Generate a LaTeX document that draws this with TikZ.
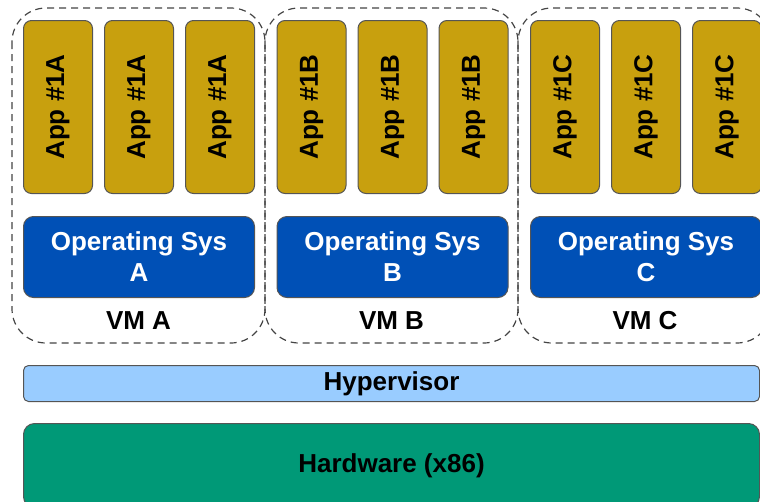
\documentclass[tikz,border=0pt]{standalone}
\usepackage{fontspec}
\setmainfont{Liberation Sans}
\definecolor{appgold}{HTML}{C8A00E}
\definecolor{osblue}{HTML}{0050B6}
\definecolor{hvblue}{HTML}{99CCFF}
\definecolor{hwgreen}{HTML}{009977}
\definecolor{edgegray}{HTML}{555555}
\definecolor{dashgray}{HTML}{444444}
\tikzset{
  vmbox/.style={draw=dashgray, line width=1.2pt, dash pattern=on 7pt off 5pt, rounded corners=34pt},
  appbox/.style={draw=edgegray, line width=1pt, fill=appgold, rounded corners=8pt, minimum width=69pt, minimum height=173pt, inner sep=0pt, anchor=north west},
  apptext/.style={font=\bfseries\fontsize{26}{28}\selectfont, rotate=90, text=black},
  osbox/.style={draw=edgegray, line width=1pt, fill=osblue, rounded corners=10pt, minimum width=231pt, minimum height=81pt, inner sep=0pt, anchor=north west, text=white, align=center, font=\bfseries\fontsize{26}{31}\selectfont},
  vmlabel/.style={font=\bfseries\fontsize{26}{28}\selectfont, text=black},
  hvbox/.style={draw=edgegray, line width=1pt, fill=hvblue, rounded corners=5pt, minimum width=736pt, minimum height=36pt, inner sep=0pt, anchor=north west, font=\bfseries\fontsize{26}{28}\selectfont},
  hwbox/.style={draw=edgegray, line width=1pt, fill=hwgreen, rounded corners=11pt, minimum width=736pt, minimum height=84pt, inner sep=0pt, anchor=north west, font=\bfseries\fontsize{26}{28}\selectfont}
}
\begin{document}
\begin{tikzpicture}[x=1pt,y=-1pt]
\useasboundingbox (0,0) rectangle (760,501);
\clip (0,0) rectangle (760,501);
% VM dashed boxes
\draw[vmbox] (12,8) rectangle (265,343);
\draw[vmbox] (265,8) rectangle (518,343);
\draw[vmbox] (518,8) rectangle (771,343);
% Apps
\foreach \x/\n [count=\i] in {23/A,104/A,185/A,276.5/B,357.5/B,438.5/B,530/C,611/C,692/C}{
  \node[appbox] (app\i) at (\x,20) {};
  \node[apptext] (apptxt\i) at (app\i.center) {App \#1\n};
}
% Operating systems
\node[osbox] (osA) at (23,216) {Operating Sys\\A};
\node[osbox] (osB) at (276.5,216) {Operating Sys\\B};
\node[osbox] (osC) at (530,216) {Operating Sys\\C};
% VM labels
\node[vmlabel] (vmA) at (138.5,321) {VM A};
\node[vmlabel] (vmB) at (391.5,321) {VM B};
\node[vmlabel] (vmC) at (645,321) {VM C};
% Hypervisor and hardware
\node[hvbox] (hv) at (23,365) {Hypervisor};
\node[hwbox] (hw) at (23,423) {Hardware (x86)};
\end{tikzpicture}
\end{document}
